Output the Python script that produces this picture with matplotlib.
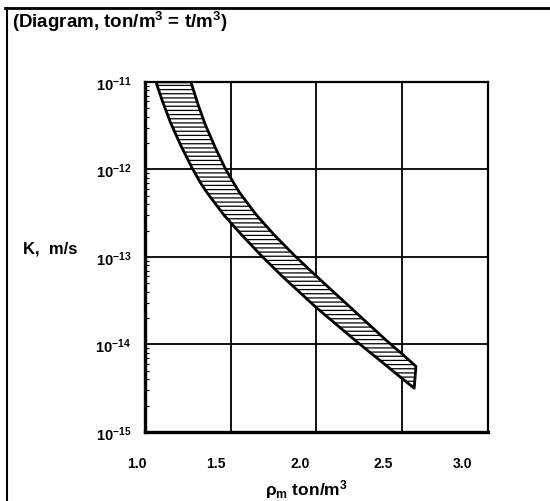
import matplotlib
matplotlib.use("Agg")
import matplotlib.pyplot as plt
import matplotlib.transforms as mtransforms
from matplotlib.lines import Line2D

plt.rcParams['font.family'] = 'Liberation Sans'
plt.rcParams['font.weight'] = 'bold'
plt.rcParams['mathtext.fontset'] = 'custom'
plt.rcParams['mathtext.rm'] = 'Liberation Sans:bold'
plt.rcParams['mathtext.it'] = 'Liberation Sans:bold'
plt.rcParams['mathtext.bf'] = 'Liberation Sans:bold'
plt.rcParams['mathtext.default'] = 'rm'
plt.rcParams['hatch.linewidth'] = 0.9

# lower/left edge of the band (density ton/m3, log10 K)
rho_low = [1.064, 1.10, 1.15, 1.21, 1.274, 1.32, 1.36, 1.46, 1.56, 1.676, 1.8, 2.0, 2.236, 2.4, 2.5, 2.57]
logk_low = [-11.0, -11.21, -11.47, -11.73, -11.98, -12.14, -12.26, -12.52, -12.74, -12.98, -13.22, -13.58,
            -13.97, -14.23, -14.39, -14.50]
# upper/right edge of the band
rho_up = [1.268, 1.31, 1.35, 1.41, 1.466, 1.51, 1.55, 1.65, 1.75, 1.875, 2.0, 2.2, 2.411, 2.5, 2.58]
logk_up = [-11.0, -11.26, -11.48, -11.75, -11.98, -12.13, -12.26, -12.52, -12.74, -12.99, -13.22, -13.58,
           -13.96, -14.11, -14.25]

xticks = [1.0, 1.5, 2.0, 2.5, 3.0]
xticklabels = ['1.0', '1.5', '2.0', '2.5', '3.0']
yticks = [1e-15, 1e-14, 1e-13, 1e-12, 1e-11]
yticklabels = ['$10^{-15}$', '$10^{-14}$', '$10^{-13}$', '$10^{-12}$', '$10^{-11}$']

fig = plt.figure(figsize=(5.5, 5.02), dpi=100)
ax = fig.add_axes([0.2636, 0.1375, 0.6236, 0.6972])

ax.set_yscale('log')
ax.set_xlim(1.0, 3.0)
ax.set_ylim(1e-15, 1e-11)

poly_x = rho_low + rho_up[::-1]
poly_y = [10 ** v for v in logk_low + logk_up[::-1]]
ax.fill(poly_x, poly_y, facecolor='white', edgecolor='black', hatch='----',
        linewidth=2.0, joinstyle='round', zorder=3)

ax.set_xticks(xticks)
ax.set_xticklabels(xticklabels, fontsize=10, fontweight='bold')
ax.set_yticks(yticks)
ax.set_yticklabels(yticklabels, fontsize=10.5)
ax.tick_params(axis='x', which='major', length=0, pad=17)
ax.tick_params(axis='y', which='major', length=0, pad=10)
ax.tick_params(axis='y', which='minor', direction='in', length=3, width=0.8, left=True)
ax.tick_params(axis='x', which='minor', length=0)
ax.grid(True, which='major', color='black', linewidth=1.3)

# the scanned labels sit left of their grid lines, more so to the right
label_shift_px = [-8, -15, -16, -19, -26]
for lbl, dx in zip(ax.get_xticklabels(), label_shift_px):
    lbl.set_transform(lbl.get_transform() + mtransforms.ScaledTranslation(dx / 100, 0, fig.dpi_scale_trans))

for side in ['left', 'bottom']:
    ax.spines[side].set_linewidth(2.4)
for side in ['top', 'right']:
    ax.spines[side].set_linewidth(1.6)

ax.set_xlabel(r'$\rho_{m}$ ton/m$^3$', fontsize=12.5, fontweight='bold', va='center')
ax.xaxis.set_label_coords(0.47, -0.163)
ax.set_ylabel('K,  m/s', fontsize=12, fontweight='bold', rotation=0, ha='left', va='center')
ax.yaxis.set_label_coords(-0.357, 0.527)

fig.text(0.022, 0.957, '(Diagram, ton/m$^3$ = t/m$^3$)', fontsize=13.5, fontweight='bold', ha='left', va='center')

# frame of the scanned page
fig.add_artist(Line2D([0.009, 1.0], [0.982, 0.982], color='black', linewidth=2.0))
fig.add_artist(Line2D([0.012, 0.012], [0.0, 0.982], color='black', linewidth=1.5))

fig.savefig('out.png', dpi=100)
